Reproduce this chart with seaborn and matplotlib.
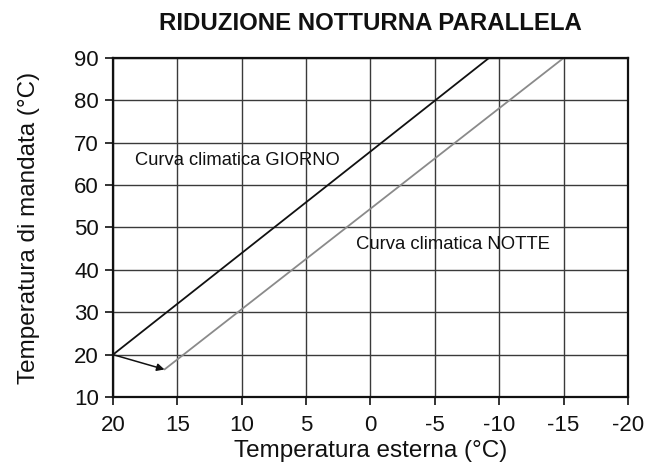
import matplotlib
matplotlib.use("Agg")
import matplotlib.pyplot as plt
import seaborn as sns
import pandas as pd

# Heating curves: outdoor temperature (°C) vs flow temperature (°C)
giorno_x = [20, -9.2]
giorno_y = [20, 90]
notte_x = [16, -15]
notte_y = [16.5, 90]
x_ticks = [20, 15, 10, 5, 0, -5, -10, -15, -20]
y_ticks = [10, 20, 30, 40, 50, 60, 70, 80, 90]

sns.set_style("white")
plt.rcParams["font.family"] = ["Liberation Sans", "DejaVu Sans"]

fig = plt.figure(figsize=(6.62, 4.67), dpi=100)
ax = fig.add_axes([0.1707, 0.1499, 0.7779, 0.7259])

df_g = pd.DataFrame({"x": giorno_x, "y": giorno_y})
df_n = pd.DataFrame({"x": notte_x, "y": notte_y})
sns.lineplot(data=df_g, x="x", y="y", ax=ax, color="#111111", linewidth=1.3, sort=False)
sns.lineplot(data=df_n, x="x", y="y", ax=ax, color="#8a8a8a", linewidth=1.3, sort=False)

# Parallel shift arrow from day curve start to night curve start
ax.annotate("", xy=(notte_x[0], notte_y[0]), xytext=(giorno_x[0], giorno_y[0]),
            arrowprops=dict(arrowstyle="-|>", color="#111111", lw=1.1,
                            mutation_scale=11, shrinkA=0, shrinkB=0))

ax.set_xlim(20, -20)
ax.set_ylim(10, 90)
ax.set_xticks(x_ticks)
ax.set_yticks(y_ticks)
ax.set_xticklabels([str(t) for t in x_ticks])
ax.grid(True, color="#3a3a3a", linewidth=1.0)
ax.set_axisbelow(True)
for s in ax.spines.values():
    s.set_color("#111111")
    s.set_linewidth(1.6)
ax.tick_params(axis="both", which="both", direction="out", length=6, width=1.2,
               color="#111111", labelsize=16, labelcolor="#111111", pad=4)
ax.tick_params(axis="x", pad=7)
ax.tick_params(left=True, bottom=True)

ax.set_xlabel("Temperatura esterna (°C)", fontsize=17.5, color="#111111", labelpad=3)
ax.set_ylabel("Temperatura di mandata (°C)", fontsize=17.5, color="#111111", labelpad=25)
ax.set_title("RIDUZIONE NOTTURNA PARALLELA", fontsize=17.3, fontweight="bold",
             color="#111111", pad=20)

ax.text(18.3, 65.9, "Curva climatica GIORNO", fontsize=13.2, color="#111111",
        ha="left", va="center")
ax.text(1.1, 45.9, "Curva climatica NOTTE", fontsize=13.3, color="#111111",
        ha="left", va="center")

fig.savefig("out.png", dpi=100)
